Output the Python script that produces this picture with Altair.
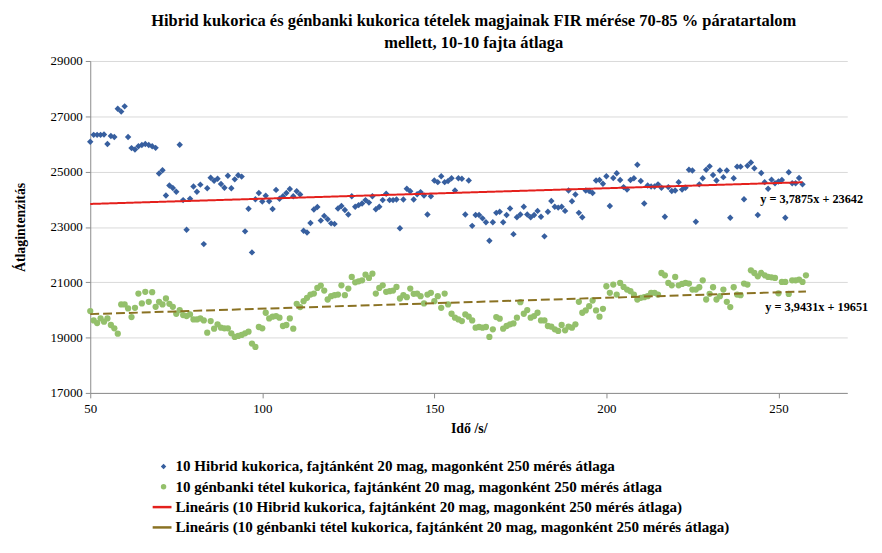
import altair as alt
import pandas as pd

TITLE_LINES = [
    "Hibrid kukorica és génbanki kukorica tételek magjainak FIR mérése 70-85 % páratartalom",
    "mellett, 10-10 fajta átlaga",
]
X_TITLE = "Idő /s/"
Y_TITLE = "Átlagintenzitás"
SERIES = [
    "10 Hibrid kukorica, fajtánként 20 mag, magonként 250 mérés átlaga",
    "10 génbanki tétel kukorica, fajtánként 20 mag, magonként 250 mérés átlaga",
]
TREND_NAMES = ["Lineáris (" + s + ")" for s in SERIES]
TREND_SLOPE = [3.7875, 3.9431]
TREND_INTERCEPT = [23642, 19651]
TREND_LABELS = ["y = 3,7875x + 23642", "y = 3,9431x + 19651"]
TREND_LABEL_X = [244.7, 246.2]
TREND_LABEL_Y = [24000, 20110]
X_TICKS = [50, 100, 150, 200, 250]
Y_TICKS = [17000, 19000, 21000, 23000, 25000, 27000, 29000]

TIME_HIBRID = list(range(50, 258))
HIBRID = [
    26080, 26330, 26330, 26330, 26340, 26000, 26290, 26250, 27275, 27170,
    27360, 26250, 25850, 25800, 25920, 25960, 26000, 25960, 25920, 25860,
    24930, 25050, 24140, 24500, 24410, 24270, 25970, 23970, 22900, 24020,
    24460, 24270, 24530, 22380, 24400, 24780, 24670, 24740, 24550, 24420,
    24850, 24400, 24720, 24870, 24820, 22840, 23660, 22080, 24000, 24230,
    23920, 24130, 23930, 23650, 24340, 24020, 24110, 24230, 24370, 24110,
    24290, 24170, 22860, 22800, 23140, 23630, 23720, 23230, 23400, 23280,
    23130, 23110, 23670, 23760, 23610, 23450, 24110, 23730, 23790, 23850,
    23970, 23880, 24110, 23640, 23730, 23970, 24200, 23970, 23970, 23990,
    22950, 23990, 24380, 24290, 23990, 24180, 24260, 24140, 23450, 24110,
    24680, 24620, 24830, 24620, 24660, 24760, 24320, 24760, 24740, 23450,
    24680, 23040, 23430, 23430, 23310, 23170, 22500, 23170, 23510, 23550,
    23170, 23430, 23670, 22740, 23350, 23450, 23730, 23450, 23350, 23430,
    23580, 23370, 22660, 23550, 23940, 23730, 23700, 23730, 23580, 24320,
    23930, 24170, 23510, 23350, 24320, 24300, 24230, 24680, 24700, 24560,
    24830, 23760, 24770, 24940, 24700, 24440, 24350, 24700, 24760, 25250,
    24660, 23850, 24500, 24460, 24460, 24540, 24420, 23370, 24440, 24300,
    24320, 24620, 24350, 24420, 25070, 25040, 23190, 24540, 24760, 25070,
    25190, 24880, 24680, 25040, 24800, 25040, 23330, 24760, 25180, 25180,
    24000, 25210, 25330, 25120, 23430, 24950, 24620, 24380, 24710, 24580,
    24640, 24700, 23330, 24980, 24580, 24580, 24770, 24540,
]

TIME_GENBANK = list(range(50, 259))
GENBANK = [
    19958, 19622, 19526, 19694, 19574, 19694, 19455, 19335, 19143, 20197,
    20197, 20054, 19742, 20078, 20593, 20233, 20653, 20293, 20641, 20113,
    20293, 20197, 20413, 20221, 20113, 19862, 19994, 19814, 19778, 19838,
    19658, 19658, 19694, 19622, 19179, 19598, 19323, 19479, 19359, 19335,
    19335, 19155, 19023, 19059, 19095, 19155, 19215, 18784, 18664, 19383,
    19335, 19898, 19694, 19754, 19778, 19720, 19419, 19455, 19694, 19323,
    20221, 20102, 20317, 20437, 20557, 20593, 20796, 20880, 20700, 20377,
    20497, 20533, 20557, 20892, 20533, 20772, 21192, 21000, 21036, 21072,
    21276, 21156, 21311, 20593, 20796, 20892, 20653, 20677, 20700, 20832,
    20413, 20533, 20461, 20772, 20581, 20593, 20497, 20233, 20557, 20617,
    20317, 20497, 20078, 20593, 20200, 19862, 19718, 19658, 19598, 19838,
    19754, 19622, 19359, 19383, 19359, 19383, 19023, 19299, 19742, 19682,
    19323, 19419, 19479, 19514, 19718, 20281, 19862, 19994, 19718, 19778,
    19898, 19622, 19622, 19419, 19395, 19299, 19239, 19455, 19263, 19395,
    19359, 19479, 20293, 19898, 19982, 20137, 20341, 19982, 19754, 20042,
    20856, 20617, 20916, 20557, 20976, 20832, 20736, 20677, 20557, 20377,
    20437, 20461, 20497, 20617, 20617, 20557, 21335, 21252, 20976, 20892,
    21192, 20892, 20940, 20976, 20952, 20736, 20736, 20820, 21072, 20377,
    20581, 20820, 20377, 20497, 20736, 20293, 20102, 20820, 20557, 20533,
    20952, 20916, 21431, 21335, 21216, 21335, 21252, 21192, 21180, 21156,
    20600, 21012, 21012, 20580, 21072, 21072, 21096, 21012, 21252,
]

BLUE = "#375F9F"
GREEN = "#94C06B"
RED = "#E4201C"
OLIVE = "#8A7223"
FONT = "Liberation Serif"

# ---------- data tables ----------
points = pd.concat([
    pd.DataFrame({"t": TIME_HIBRID, "v": HIBRID, "series": SERIES[0]}),
    pd.DataFrame({"t": TIME_GENBANK, "v": GENBANK, "series": SERIES[1]}),
], ignore_index=True)

trend_rows = []
for name, times, a, b in zip(TREND_NAMES, [TIME_HIBRID, TIME_GENBANK], TREND_SLOPE, TREND_INTERCEPT):
    for t in (min(times), max(times)):
        trend_rows.append({"t": t, "v": a * t + b, "trend": name})
trend = pd.DataFrame(trend_rows)

labels = pd.DataFrame({"t": TREND_LABEL_X, "v": TREND_LABEL_Y, "text": TREND_LABELS})

ALL_NAMES = SERIES + TREND_NAMES
color_scale = alt.Scale(domain=ALL_NAMES, range=[BLUE, GREEN, RED, OLIVE])

x_enc = alt.X(
    "t:Q",
    scale=alt.Scale(domain=[50, 270], nice=False, zero=False),
    axis=alt.Axis(values=X_TICKS, grid=False, title=X_TITLE, tickSize=5,
                  labelPadding=5, titlePadding=6, format="d", labelFlush=False),
)
y_enc = alt.Y(
    "v:Q",
    scale=alt.Scale(domain=[17000, 29000], nice=False, zero=False),
    axis=alt.Axis(values=Y_TICKS, grid=True, title=Y_TITLE, tickSize=5,
                  labelPadding=3, titlePadding=23, format="d", labelFlush=False),
)

pts = alt.Chart(points).mark_point(filled=True, opacity=1).encode(
    x=x_enc,
    y=y_enc,
    color=alt.Color("series:N", scale=color_scale, legend=None),
    shape=alt.Shape("series:N", scale=alt.Scale(domain=SERIES, range=["diamond", "circle"]), legend=None),
    size=alt.Size("series:N", scale=alt.Scale(domain=SERIES, range=[42, 40]), legend=None),
)

lines = alt.Chart(trend).mark_line(strokeWidth=2).encode(
    x="t:Q",
    y="v:Q",
    color=alt.Color("trend:N", scale=color_scale, legend=None),
    strokeDash=alt.StrokeDash("trend:N", scale=alt.Scale(domain=TREND_NAMES, range=[[1, 0], [9, 4]]), legend=None),
    detail="trend:N",
)

eq = alt.Chart(labels).mark_text(
    align="left", baseline="middle", font=FONT, fontSize=12.4, fontWeight="bold", color="#000"
).encode(x="t:Q", y="v:Q", text="text:N")

top = alt.layer(pts, lines, eq).properties(
    width=764,
    height=335,
    title=alt.TitleParams(
        text=TITLE_LINES, font=FONT, fontSize=16.6, fontWeight="bold", anchor="middle",
        frame="group", lineHeight=22, offset=4, dx=5, color="#000",
    ),
)

# ---------- legend ----------
legend_df = pd.DataFrame({"label": ALL_NAMES})
ly = alt.Y("label:N", sort=ALL_NAMES, axis=None,
           scale=alt.Scale(type="point", domain=ALL_NAMES, padding=0.5))

leg_pts = alt.Chart(legend_df).transform_filter(
    alt.FieldOneOfPredicate(field="label", oneOf=SERIES)
).mark_point(filled=True, opacity=1).encode(
    x=alt.value(74),
    y=ly,
    color=alt.Color("label:N", scale=color_scale, legend=None),
    shape=alt.Shape("label:N", scale=alt.Scale(domain=SERIES, range=["diamond", "circle"]), legend=None),
    size=alt.value(30),
)
leg_lines = alt.Chart(legend_df).transform_filter(
    alt.FieldOneOfPredicate(field="label", oneOf=TREND_NAMES)
).mark_rule(strokeWidth=2.5).encode(
    x=alt.value(63),
    x2=alt.value(82),
    y=ly,
    color=alt.Color("label:N", scale=color_scale, legend=None),
)
leg_text = alt.Chart(legend_df).mark_text(
    align="left", baseline="middle", font=FONT, fontSize=15.2, fontWeight="bold", color="#000"
).encode(x=alt.value(86), y=ly, text="label:N")

legend = alt.layer(leg_pts, leg_lines, leg_text).properties(width=764, height=82)

chart = alt.vconcat(top, legend, spacing=21).properties(
    padding={"left": 5, "top": 2, "right": 5, "bottom": 3}
).configure_view(stroke=None).configure_axis(
    labelFont=FONT, labelFontSize=13, labelColor="#000",
    titleFont=FONT, titleFontSize=14, titleFontWeight="bold", titleColor="#000",
    domainColor="#8c8c8c", tickColor="#8c8c8c", gridColor="#d9d9d9",
).configure_text(font=FONT)

chart.save("out.html", embed_options={"renderer": "svg", "actions": False})
